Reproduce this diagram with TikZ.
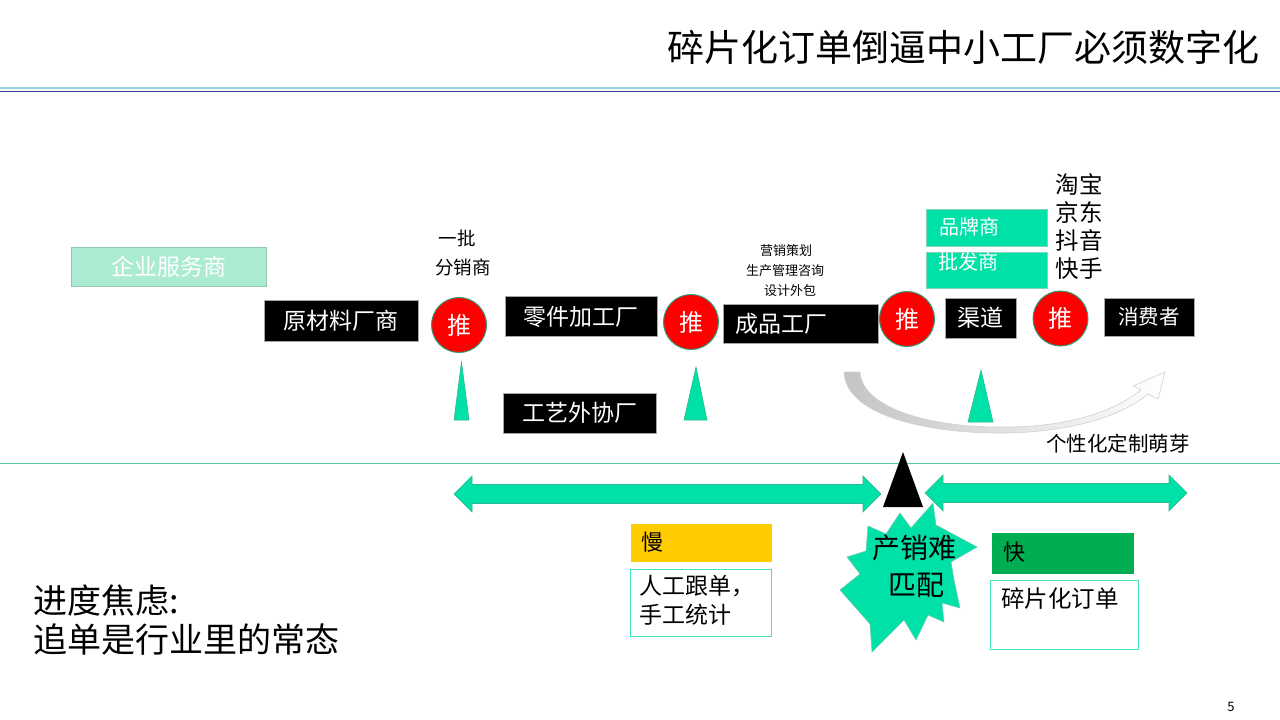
\documentclass[tikz,border=0pt]{standalone}
\usepackage{fontspec}
\setmainfont{Noto Sans CJK SC}
\definecolor{mint}{HTML}{00E1A8}
\definecolor{mintdark}{HTML}{2DB98F}
\definecolor{mintline}{HTML}{3DE6BC}
\definecolor{lightmint}{HTML}{ABEBD2}
\definecolor{lightmintdark}{HTML}{8CC7AE}
\definecolor{pushborder}{HTML}{2E9E78}
\definecolor{fastgreen}{HTML}{00AD50}
\definecolor{slowyellow}{HTML}{FFCC00}
\definecolor{headlight}{HTML}{95D5D5}
\definecolor{headdark}{HTML}{2B3990}
\definecolor{midline}{HTML}{56C9A5}
\definecolor{arrowgray}{HTML}{C4C4C4}
\tikzset{
  blackbox/.style={draw=gray!70, fill=black, text=white, inner sep=0pt, font=\fontsize{23}{28}\selectfont},
  push/.style={circle, draw=pushborder, line width=1pt, fill=red, text=white, minimum size=55pt, inner sep=0pt, font=\fontsize{24}{28}\selectfont},
  greenbox/.style={fill=mint, draw=mintdark!60, inner sep=0pt},
  descbox/.style={fill=white, draw=mintline, line width=1pt, inner sep=0pt},
  mintshape/.style={fill=mint, draw=mintdark, line width=0.6pt},
  txt/.style={inner sep=0pt}
}
\begin{document}
\begin{tikzpicture}[x=1pt,y=-1pt]
\useasboundingbox (0,0) rectangle (1280,720);
% header
\node[txt, anchor=east, font=\fontsize{37}{40}\selectfont] (title) at (1260,47) {碎片化订单倒逼中小工厂必须数字化};
\draw[headlight, line width=2pt] (0,87.5) -- (1280,87.5);
\draw[headdark, line width=1.4pt] (0,91.3) -- (1280,91.3);
% middle line
\draw[midline, line width=0.8pt] (0,463.5) -- (1280,463.5);

% top row
\node[fill=lightmint, draw=lightmintdark, minimum width=195pt, minimum height=39pt, inner sep=0pt, text=white, font=\fontsize{23}{28}\selectfont] (ent) at (168.5,266.5) {企业服务商};
\node[blackbox, minimum width=154pt, minimum height=41pt] (ycl) at (341,320.5) {原材料厂商};
\node[push] (p1) at (459,325) {推};
\node[txt, font=\fontsize{18.5}{22}\selectfont] (yp) at (457,238) {一批};
\node[txt, font=\fontsize{18.5}{22}\selectfont] (fx) at (463,267) {分销商};
\node[blackbox, minimum width=152pt, minimum height=40pt] (lj) at (581,316.5) {零件加工厂};
\node[blackbox, minimum width=153pt, minimum height=40pt] (gy) at (579.5,413) {工艺外协厂};
\node[push] (p2) at (691,322) {推};
\node[txt, font=\fontsize{13}{16}\selectfont] (mk1) at (786,251) {营销策划};
\node[txt, font=\fontsize{13}{16}\selectfont] (mk2) at (785,271) {生产管理咨询};
\node[txt, font=\fontsize{13}{16}\selectfont] (mk3) at (790,291) {设计外包};
\node[blackbox, minimum width=155pt, minimum height=39pt] (cp) at (800.5,323.5) {};
\node[txt, anchor=west, text=white, font=\fontsize{23}{28}\selectfont] (cpt) at (735,323.5) {成品工厂};
\node[push] (p3) at (907,319) {推};
\node[blackbox, minimum width=71pt, minimum height=40pt] (qd) at (980.5,318) {渠道};
\node[push] (p4) at (1060.5,318.5) {推};
\node[blackbox, minimum width=90pt, minimum height=38pt, font=\fontsize{20.5}{24}\selectfont] (xf) at (1149,317) {消费者};
\node[greenbox, minimum width=121pt, minimum height=37pt] (pp) at (986.5,227.5) {};
\node[txt, anchor=west, text=white, font=\fontsize{20}{24}\selectfont] (ppt) at (939,226.5) {品牌商};
\node[greenbox, minimum width=121pt, minimum height=36pt] (pf) at (986.5,270) {};
\node[txt, anchor=west, text=white, font=\fontsize{20}{24}\selectfont] (pft) at (938,262) {批发商};
\node[txt, align=left, font=\fontsize{23.5}{28}\selectfont] (pl) at (1079,226.5) {淘宝\\京东\\抖音\\快手};

% small triangles
\path[mintshape] (454,420) -- (461.5,362) -- (469,420) -- cycle;
\path[mintshape] (684,420) -- (696,367) -- (707,420) -- cycle;
% curved arrow
\shade[left color=arrowgray, right color=white, draw=arrowgray!80, line width=0.6pt]
  (844,372) .. controls (846,418) and (935,434) .. (1005,433)
  .. controls (1070,432) and (1120,417) .. (1148,394)
  -- (1158,399) -- (1165,372) -- (1133,386) -- (1141,390)
  .. controls (1112,413) and (1065,427) .. (1005,427)
  .. controls (930,428) and (862,408) .. (860,372) -- cycle;
\path[mintshape] (968,422) -- (981,370) -- (993,422) -- cycle;
\node[txt, font=\fontsize{20.5}{24}\selectfont] (gx) at (1118,444) {个性化定制萌芽};

% double arrows
\path[mintshape] (454,494) -- (472,476) -- (472,484.5) -- (863,484.5) -- (863,476) -- (881,494)
  -- (863,512) -- (863,503.5) -- (472,503.5) -- (472,512) -- cycle;
\path[mintshape] (925,493) -- (943,475) -- (943,483.5) -- (1169,483.5) -- (1169,475) -- (1187,493)
  -- (1169,511) -- (1169,502.5) -- (943,502.5) -- (943,511) -- cycle;

% explosion
\path[fill=mint, draw=mintdark!70, line width=0.6pt]
  (933,503) -- (936,525) -- (977,547) -- (951,562) -- (954,580) -- (960,608)
  -- (942,603) -- (944,622) -- (928,615) -- (916,640) -- (904,620) -- (872,652)
  -- (870,624) -- (840,590) -- (860,574) -- (847,557) -- (866,551) -- (868,526)
  -- (886,534) -- (900,513) -- (911,528) -- cycle;
\node[txt, font=\fontsize{28}{32}\selectfont] (cx1) at (914,548) {产销难};
\node[txt, font=\fontsize{28}{32}\selectfont] (cx2) at (916,585) {匹配};
% black triangle
\fill[black] (883,507) -- (903,452) -- (923,507) -- cycle;

% slow / fast
\node[fill=slowyellow, minimum width=141pt, minimum height=38pt, inner sep=0pt] (slow) at (701.5,543) {};
\node[txt, anchor=west, font=\fontsize{22}{26}\selectfont] (slowt) at (641,542) {慢};
\node[descbox, minimum width=141pt, minimum height=67pt] (slowd) at (700.5,602.5) {};
\node[txt, anchor=west, align=left, font=\fontsize{23}{28.5}\selectfont] (slowdt) at (639,600.5) {人工跟单，\\手工统计};
\node[fill=fastgreen, minimum width=142pt, minimum height=41pt, inner sep=0pt] (fast) at (1063,553.5) {};
\node[txt, anchor=west, font=\fontsize{22}{26}\selectfont] (fastt) at (1003,552) {快};
\node[descbox, minimum width=148pt, minimum height=69pt] (fastd) at (1064,614.5) {};
\node[txt, anchor=west, font=\fontsize{23.5}{28}\selectfont] (fastdt) at (1001,598.5) {碎片化订单};

% bottom left text
\node[txt, anchor=west, font=\fontsize{34}{38}\selectfont] (jd1) at (33,601) {进度焦虑:};
\node[txt, anchor=west, font=\fontsize{34}{38}\selectfont] (jd2) at (33,640) {追单是行业里的常态};
% page number
\node[txt, font=\fontsize{13}{15}\selectfont] (pg) at (1231,707) {5};
\end{tikzpicture}
\end{document}
